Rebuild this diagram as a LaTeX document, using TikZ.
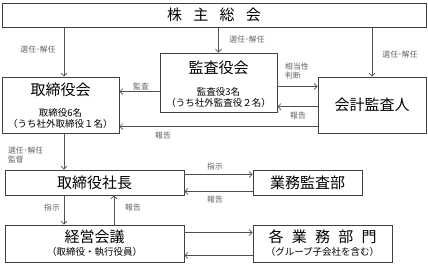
\documentclass[tikz,border=0pt]{standalone}
\usepackage{fontspec}
\setmainfont{Noto Sans CJK JP}
\usetikzlibrary{arrows.meta}

\definecolor{boxgray}{HTML}{404040}
\definecolor{linegray}{HTML}{505050}
\definecolor{taggray}{HTML}{606060}

\begin{document}
\begin{tikzpicture}[
  x=1pt, y=-1pt,
  every node/.style={inner sep=0pt},
  box/.style={draw=boxgray, line width=0.8pt, rectangle},
  title/.style={font=\fontsize{15}{17}\selectfont},
  detail/.style={font=\fontsize{9.5}{11}\selectfont},
  tag/.style={font=\fontsize{7.8}{9.5}\selectfont, text=taggray, align=left},
  arrow/.style={draw=linegray, line width=0.7pt, -{Straight Barb[length=3pt,width=6pt]}}]

  \useasboundingbox (0,0) rectangle (428,265);

  % ---- the boxes ----------------------------------------------------------
  \node[box, minimum width=424pt, minimum height=24pt] (soukai) at (214,15) {};
  \node[box, minimum width=117pt, minimum height=56pt] (torikai) at (60.5,105) {};
  \node[box, minimum width=117pt, minimum height=59pt] (kansa) at (218.5,82.5) {};
  \node[box, minimum width=108pt, minimum height=56pt] (kaikei) at (372,105) {};
  \node[box, minimum width=179pt, minimum height=25pt] (shachou) at (94.5,182.5) {};
  \node[box, minimum width=109pt, minimum height=25pt] (gyoumu) at (307.5,182.5) {};
  \node[box, minimum width=179pt, minimum height=37pt] (keiei) at (94.5,243.5) {};
  \node[box, minimum width=139pt, minimum height=37pt] (bumon) at (322.5,243.5) {};

  % ---- the texts in the boxes ---------------------------------------------
  \node[title] (soukaitxt) at (214,15) {株\hspace{0.75em}主\hspace{0.75em}総\hspace{0.75em}会};
  \node[title] (torikaitxt) at (60.5,90) {取締役会};
  \node[detail] (torikaia) at (60.5,113) {取締役6名};
  \node[detail] (torikaib) at (60.5,124) {（うち社外取締役１名）};
  \node[title] (kansatxt) at (218.5,68) {監査役会};
  \node[detail] (kansaa) at (218.5,92) {監査役3名};
  \node[detail] (kansab) at (218.5,103) {（うち社外監査役２名）};
  \node[title] (kaikeitxt) at (372,105) {会計監査人};
  \node[title] (shachoutxt) at (94.5,182.5) {取締役社長};
  \node[title] (gyoumutxt) at (307.5,182.5) {業務監査部};
  \node[title] (keieitxt) at (94.5,237) {経営会議};
  \node[detail] (keieia) at (94.5,252) {（取締役・執行役員）};
  \node[title] (bumontxt) at (322.5,237) {各\hspace{0.55em}業\hspace{0.55em}務\hspace{0.55em}部\hspace{0.55em}門};
  \node[detail] (bumona) at (322.5,252) {（グループ子会社を含む）};

  % ---- from the shareholders' meeting -------------------------------------
  \draw[arrow] ([xshift=3.5pt]torikai.north |- soukai.south) -- ([xshift=3.5pt]torikai.north);
  \draw[arrow] (kansa.north |- soukai.south) -- (kansa.north);
  \draw[arrow] (kaikei.north |- soukai.south) -- (kaikei.north);
  \node[tag] (sen1) at (38,50) {選任･解任};
  \node[tag] (sen2) at (247,40) {選任･解任};
  \node[tag] (sen3) at (400,55) {選任･解任};

  % ---- between the three boards -------------------------------------------
  \coordinate (hantei) at ([yshift=-10pt]kaikei.north west);
  \draw[arrow] (kansa.east |- hantei) -- (hantei);
  \node[tag, anchor=west] (hanteitxt) at (285,71) {相当性\\判断};

  \coordinate (kansaout) at ([yshift=-15pt]torikai.north east);
  \draw[arrow] (kansa.west |- kansaout) -- (kansaout);
  \node[tag] (kansatag) at (141,86) {監査};

  \coordinate (houkoku1) at ([yshift=-30pt]kaikei.north west);
  \draw[arrow] (houkoku1) -- (kansa.east |- houkoku1);
  \node[tag] (houkoku1txt) at (298,116) {報告};

  \coordinate (houkoku2) at ([yshift=-50pt]kaikei.north west);
  \draw[arrow] (houkoku2) -- (torikai.east |- houkoku2);
  \node[tag] (houkoku2txt) at (163,136) {報告};

  % ---- board to president -------------------------------------------------
  \draw[arrow] ([xshift=3.5pt]torikai.south) -- ([xshift=3.5pt]torikai.south |- shachou.north);
  \node[tag, anchor=west] (kantoku) at (8,155) {選任･解任\\監督};

  % ---- president and internal audit ---------------------------------------
  \coordinate (shiji1) at ([yshift=-5pt]gyoumu.north west);
  \draw[arrow] (shachou.east |- shiji1) -- (shiji1);
  \node[tag] (shiji1txt) at (215,167) {指示};
  \coordinate (houkoku3) at ([yshift=4pt]gyoumu.south west);
  \draw[arrow] (houkoku3) -- (shachou.east |- houkoku3);
  \node[tag] (houkoku3txt) at (215,200) {報告};

  % ---- president and management meeting -----------------------------------
  \draw[arrow] ([xshift=-30.5pt]shachou.south) -- ([xshift=-30.5pt]keiei.north);
  \node[tag] (shiji2txt) at (52,208) {指示};
  \draw[arrow] ([xshift=19.5pt]keiei.north) -- ([xshift=19.5pt]shachou.south);
  \node[tag] (houkoku4txt) at (133,208) {報告};

  % ---- management meeting and the divisions -------------------------------
  \coordinate (bumonin) at ([yshift=-8pt]bumon.north west);
  \draw[arrow] (keiei.east |- bumonin) -- (bumonin);
  \coordinate (bumonout) at ([yshift=7pt]bumon.south west);
  \draw[arrow] (bumonout) -- (keiei.east |- bumonout);
\end{tikzpicture}
\end{document}
